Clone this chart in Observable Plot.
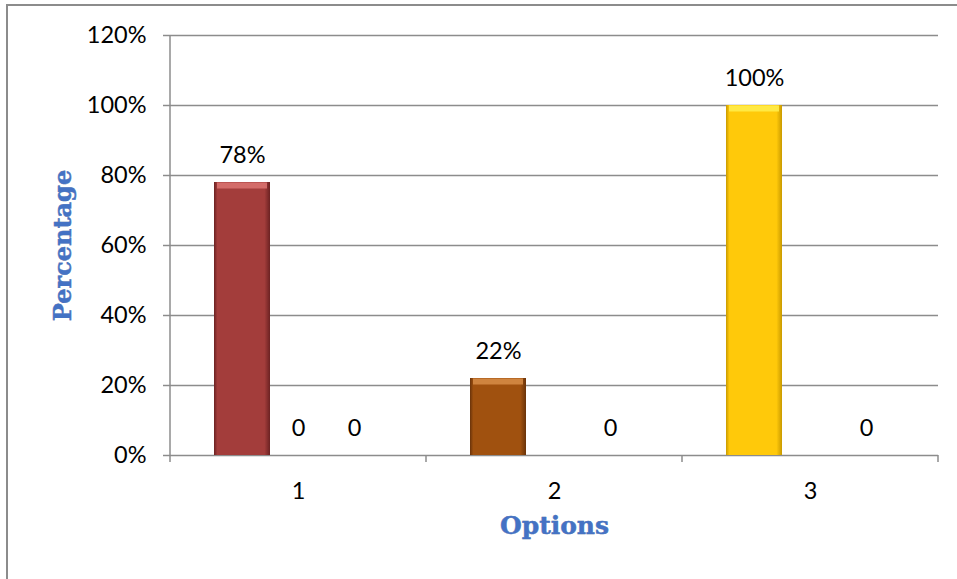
<!DOCTYPE html>
<html>
<head>
<meta charset="utf-8">
<script src="https://cdn.jsdelivr.net/npm/d3@7"></script>
<script src="https://cdn.jsdelivr.net/npm/@observablehq/plot@0.6"></script>
<style>
  html, body { margin: 0; padding: 0; background: #fff; overflow: hidden; }
  #wrap { position: relative; width: 957px; height: 579px; }
  #border { position: absolute; left: 6px; top: 4px; width: 1000px; height: 640px;
            border: 2px solid #8c8c8c; box-sizing: border-box; pointer-events: none; }
</style>
</head>
<body>
<div id="wrap"><div id="chart"></div><div id="border"></div></div>
<script>
// Categories on the x axis and the three series of each group
const categories = ["1", "2", "3"];
const seriesNames = ["Series1", "Series2", "Series3"];
const series1 = [0.78, 0.22, 1.00];
const series2 = [0, null, null];
const series3 = [0, 0, 0];
const yTicks = [0, 0.2, 0.4, 0.6, 0.8, 1.0, 1.2];

// Bar colours vary by category: body, lighter top bevel, darker edges
const barColors = ["#A33D3B", "#A0510F", "#FFC90A"];
const bevelColors = ["#D8716F", "#D48A45", "#FFEC4A"];
const edgeColors = ["#6B2222", "#6A330A", "#C99A00"];

const pct = d3.format(".0%");
const rows = [];
[series1, series2, series3].forEach((vals, s) => {
  vals.forEach((v, i) => {
    if (v == null) return;
    rows.push({
      cat: categories[i],
      series: seriesNames[s],
      value: v,
      label: s === 0 ? pct(v) : String(v)
    });
  });
});
const filled = rows.filter(d => d.value > 0);

const gridStroke = "#8c8c8c";
const fontSize = 23.5;

const chart = Plot.plot({
  width: 957,
  height: 579,
  marginLeft: 170,
  marginRight: 19,
  marginTop: 35,
  marginBottom: 124,
  style: { fontFamily: "Lato, sans-serif", fontSize: `${fontSize}px`, color: "#000", background: "transparent" },
  fx: { domain: categories, paddingInner: 0, paddingOuter: 0, label: null },
  x: { domain: seriesNames, paddingInner: 0, paddingOuter: 0.75, axis: null },
  y: { domain: [0, 1.2], ticks: yTicks, tickFormat: pct, label: null },
  color: { domain: categories, range: categories.map((c, i) => `url(#bevel${i})`) },
  marks: [
    Plot.gridY(yTicks, { stroke: gridStroke, strokeOpacity: 1, strokeWidth: 1.5 }),
    Plot.axisY(yTicks, { tickSize: 7, tickPadding: 17, stroke: gridStroke, strokeWidth: 1.5, tickFormat: pct, label: null, fontSize }),
    Plot.axisFx({ anchor: "bottom", tickSize: 0, tickPadding: 27, label: null, fontSize }),
    Plot.barY(filled, { fx: "cat", x: "series", y: "value", fill: "cat" }),
    Plot.tickY(filled, {
      fx: "cat", x: "series", y: "value", dy: 3, strokeWidth: 6, insetLeft: 3, insetRight: 3,
      stroke: d => bevelColors[categories.indexOf(d.cat)], strokeOpacity: 0.9
    }),
    Plot.text(rows, { fx: "cat", x: "series", y: "value", text: "label", dy: -27, fill: "#000", fontSize }),
    Plot.text(["Percentage"], {
      frameAnchor: "left", textAnchor: "middle", dx: -107, rotate: -90, fontFamily: "DejaVu Serif", fontWeight: "bold",
      fontSize: 24, fill: "#4472C4", stroke: "#2F5597", strokeWidth: 0.4, facetAnchor: "left"
    }),
    Plot.text(["Options"], {
      frameAnchor: "bottom", dy: 78, fontFamily: "DejaVu Serif", fontWeight: "bold",
      fontSize: 25, fill: "#4472C4", stroke: "#2F5597", strokeWidth: 0.4, fx: d => categories[1]
    })
  ]
});

document.getElementById("chart").appendChild(chart);

// Gradients giving each bar darker side edges
const svg = d3.select(chart);
const defs = svg.insert("defs", ":first-child");
barColors.forEach((c, i) => {
  const g = defs.append("linearGradient").attr("id", `bevel${i}`).attr("x1", 0).attr("x2", 1).attr("y1", 0).attr("y2", 0);
  g.append("stop").attr("offset", "0%").attr("stop-color", edgeColors[i]);
  g.append("stop").attr("offset", "6%").attr("stop-color", c);
  g.append("stop").attr("offset", "90%").attr("stop-color", c);
  g.append("stop").attr("offset", "100%").attr("stop-color", edgeColors[i]);
});

// Value axis line and category boundary ticks, placed with the chart's scales
const fx = chart.scale("fx");
const y = chart.scale("y");
const x0 = fx.apply(categories[0]);
const y0 = y.apply(0);
const axes = svg.append("g").attr("stroke", gridStroke).attr("stroke-width", 1.5);
axes.append("line").attr("x1", x0).attr("x2", x0).attr("y1", y.apply(1.2)).attr("y2", y0);
const bounds = categories.map(c => fx.apply(c)).concat([fx.apply(categories[categories.length - 1]) + fx.bandwidth]);
bounds.forEach(bx => {
  axes.append("line").attr("x1", bx).attr("x2", bx).attr("y1", y0).attr("y2", y0 + 7);
});
</script>
</body>
</html>
